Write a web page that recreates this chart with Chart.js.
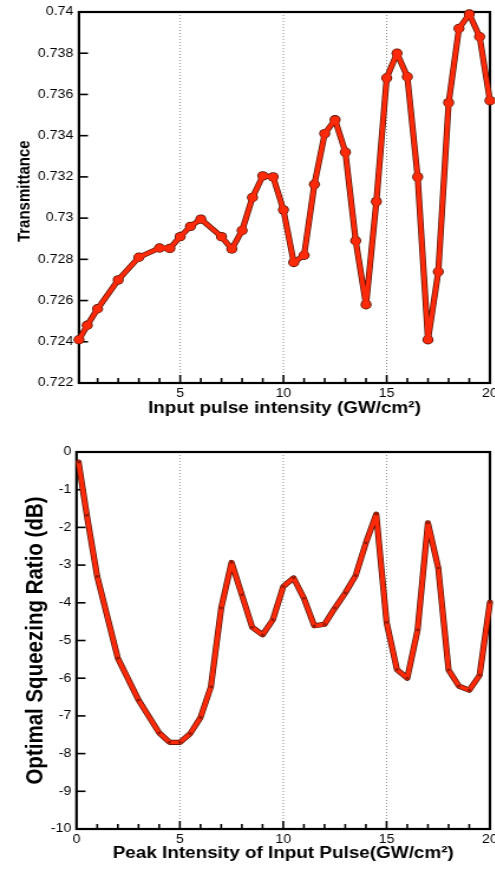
<!DOCTYPE html>
<html>
<head>
<meta charset="utf-8">
<script src="https://cdn.jsdelivr.net/npm/chart.js@4.4.1/dist/chart.umd.min.js"></script>
<style>
  html, body { margin: 0; padding: 0; background: #fff; width: 495px; height: 869px; overflow: hidden; }
  canvas { position: absolute; left: 0; }
</style>
</head>
<body>
<!-- drawn narrow and shown wider: the reference is stretched sideways -->
<canvas id="top" width="432" height="418" style="top:0;width:510px;height:418px"></canvas>
<canvas id="bottom" width="432" height="433" style="top:430px;width:510px;height:433px"></canvas>
<script>
// transmittance vs input pulse intensity
const topX = [0.1, 0.5, 1, 2, 3, 4, 4.5, 5, 5.5, 6, 7, 7.5, 8, 8.5, 9, 9.5, 10, 10.5, 11, 11.5,
  12, 12.5, 13, 13.5, 14, 14.5, 15, 15.5, 16, 16.5, 17, 17.5, 18, 18.5, 19, 19.5, 20];
const topY = [0.7241, 0.7248, 0.7256, 0.7270, 0.7281, 0.72855, 0.72853, 0.7291, 0.7296, 0.72995,
  0.7291, 0.7285, 0.7294, 0.7310, 0.73205, 0.7320, 0.7304, 0.72785, 0.7282, 0.73164,
  0.7341, 0.73477, 0.7332, 0.7289, 0.7258, 0.7308, 0.7368, 0.7380, 0.73686, 0.7320,
  0.7241, 0.7274, 0.7356, 0.7392, 0.7399, 0.7388, 0.7357];

// optimal squeezing ratio vs peak intensity
const bottomX = [0.1, 0.5, 1, 2, 3, 4, 4.5, 5, 5.5, 6, 6.5, 7, 7.5, 8, 8.5, 9, 9.5, 10, 10.5, 11,
  11.5, 12, 12.5, 13, 13.5, 14, 14.5, 15, 15.5, 16, 16.5, 17, 17.5, 18, 18.5, 19, 19.5, 20];
const bottomY = [-0.27, -1.68, -3.3, -5.47, -6.58, -7.45, -7.7, -7.7, -7.47, -7.04, -6.23, -4.14,
  -2.93, -3.79, -4.65, -4.85, -4.45, -3.57, -3.34, -3.88, -4.61, -4.57, -4.14, -3.74, -3.28,
  -2.41, -1.65, -4.52, -5.77, -6.0, -4.72, -1.88, -3.08, -5.78, -6.21, -6.32, -5.92, -3.99];

// ticks
const topXTicks = [5, 10, 15, 20];
const topXLabels = ['5', '10', '15', '20'];
const bottomXTicks = [0, 5, 10, 15, 20];
const bottomXLabels = ['0', '5', '10', '15', '20'];
const topYTicks = [0.722, 0.724, 0.726, 0.728, 0.73, 0.732, 0.734, 0.736, 0.738, 0.74];
const topYLabels = ['0.722', '0.724', '0.726', '0.728', '0.73', '0.732', '0.734', '0.736', '0.738', '0.74'];
const bottomYTicks = [-10, -9, -8, -7, -6, -5, -4, -3, -2, -1, 0];
const bottomYLabels = ['-10', '-9', '-8', '-7', '-6', '-5', '-4', '-3', '-2', '-1', '0'];
const gridX = [5, 10, 15];

const RED = '#ff2a0a';
const EDGE = '#4a1000';
const FONT = "'Liberation Sans', Arial, sans-serif";

// dotted grid, inward ticks and the box
const framePlugin = {
  id: 'frame',
  beforeDatasetsDraw(chart, args, opts) {
    const { ctx, chartArea: a, scales: { x, y } } = chart;
    ctx.save();
    ctx.strokeStyle = '#777';
    ctx.lineWidth = 0.85;
    ctx.setLineDash([1, 2]);
    gridX.forEach(v => {
      const px = x.getPixelForValue(v);
      ctx.beginPath(); ctx.moveTo(px, a.top); ctx.lineTo(px, a.bottom); ctx.stroke();
    });
    ctx.setLineDash([]);
    ctx.strokeStyle = '#000';
    ctx.lineWidth = 1.6;
    for (let v = 1; v < 20; v++) {
      const px = x.getPixelForValue(v);
      const len = v % 5 ? 5 : 8;
      ctx.beginPath(); ctx.moveTo(px, a.bottom); ctx.lineTo(px, a.bottom - len); ctx.stroke();
    }
    opts.yTicks.forEach(v => {
      const py = y.getPixelForValue(v);
      ctx.beginPath(); ctx.moveTo(a.left, py); ctx.lineTo(a.left + 7.6, py); ctx.stroke();
    });
    ctx.lineWidth = 2.2;
    ctx.strokeRect(a.left, a.top, a.right - a.left, a.bottom - a.top);
    ctx.restore();
  }
};

function makeChart(id, c) {
  const pts = c.xs.map((v, i) => ({ x: v, y: c.ys[i] }));
  return new Chart(document.getElementById(id), {
    type: 'line',
    data: {
      datasets: [
        {
          data: pts, borderColor: RED, borderWidth: 3.8, tension: 0, clip: false,
          borderJoinStyle: 'round', borderCapStyle: 'round',
          pointRadius: c.dot, pointBackgroundColor: c.dotColor, pointBorderWidth: 0
        },
        {
          data: pts, borderColor: EDGE, borderWidth: 5.2, tension: 0, clip: false,
          borderJoinStyle: 'round', borderCapStyle: 'round',
          pointRadius: c.dotEdge, pointBackgroundColor: EDGE, pointBorderWidth: 0
        }
      ]
    },
    options: {
      responsive: false,
      animation: false,
      events: [],
      layout: { padding: { top: c.padTop, right: 17, left: 0, bottom: 0 } },
      plugins: { legend: { display: false }, tooltip: { enabled: false }, frame: { yTicks: c.yTicks } },
      scales: {
        x: {
          type: 'linear', min: c.xMin, max: 20,
          grid: { display: false, drawTicks: false },
          border: { display: false },
          afterFit: s => { s.height = c.xHeight; },
          afterBuildTicks: s => { s.ticks = c.xTicks.map(v => ({ value: v })); },
          ticks: {
            autoSkip: false, maxRotation: 0, padding: 3, color: '#000',
            font: { family: FONT, size: 12 },
            callback: (v, i) => c.xLabels[i]
          },
          title: {
            display: true, text: c.xTitle, color: '#000', padding: 0,
            font: { family: FONT, size: 16, weight: 'bold' }
          }
        },
        y: {
          type: 'linear', min: c.yMin, max: c.yMax,
          grid: { display: false, drawTicks: false },
          border: { display: false },
          afterFit: s => { s.width = c.yWidth; },
          afterBuildTicks: s => { s.ticks = c.yTicks.map(v => ({ value: v })); },
          ticks: {
            autoSkip: false, padding: c.yPad, color: '#000',
            font: { family: FONT, size: 12 },
            callback: (v, i) => c.yLabels[i]
          },
          title: {
            display: true, text: c.yTitle, color: '#000', padding: { top: c.yTitlePad, bottom: 0 },
            font: { family: FONT, size: c.yTitleSize, weight: 'bold' }
          }
        }
      }
    },
    plugins: [framePlugin]
  });
}

makeChart('top', {
  xs: topX, ys: topY, xMin: 0.1, yMin: 0.722, yMax: 0.74,
  xTicks: topXTicks, xLabels: topXLabels, yTicks: topYTicks, yLabels: topYLabels,
  // leading spaces lift the title a little, as in the reference
  xTitle: 'Input pulse intensity (GW/cm²)', yTitle: '   Transmittance',
  padTop: 10, xHeight: 35, yWidth: 66.9, yPad: 4.8, yTitlePad: 12, yTitleSize: 15,
  dot: 3.9, dotColor: RED, dotEdge: 4.7
});

makeChart('bottom', {
  xs: bottomX, ys: bottomY, xMin: 0, yMin: -10, yMax: 0,
  xTicks: bottomXTicks, xLabels: bottomXLabels, yTicks: bottomYTicks, yLabels: bottomYLabels,
  xTitle: 'Peak Intensity of Input Pulse(GW/cm²)', yTitle: 'Optimal Squeezing Ratio (dB)',
  padTop: 22, xHeight: 34, yWidth: 64.8, yPad: 4.5, yTitlePad: 18, yTitleSize: 20.5,
  dot: 1.4, dotColor: '#8a1800', dotEdge: 0
});
</script>
</body>
</html>
